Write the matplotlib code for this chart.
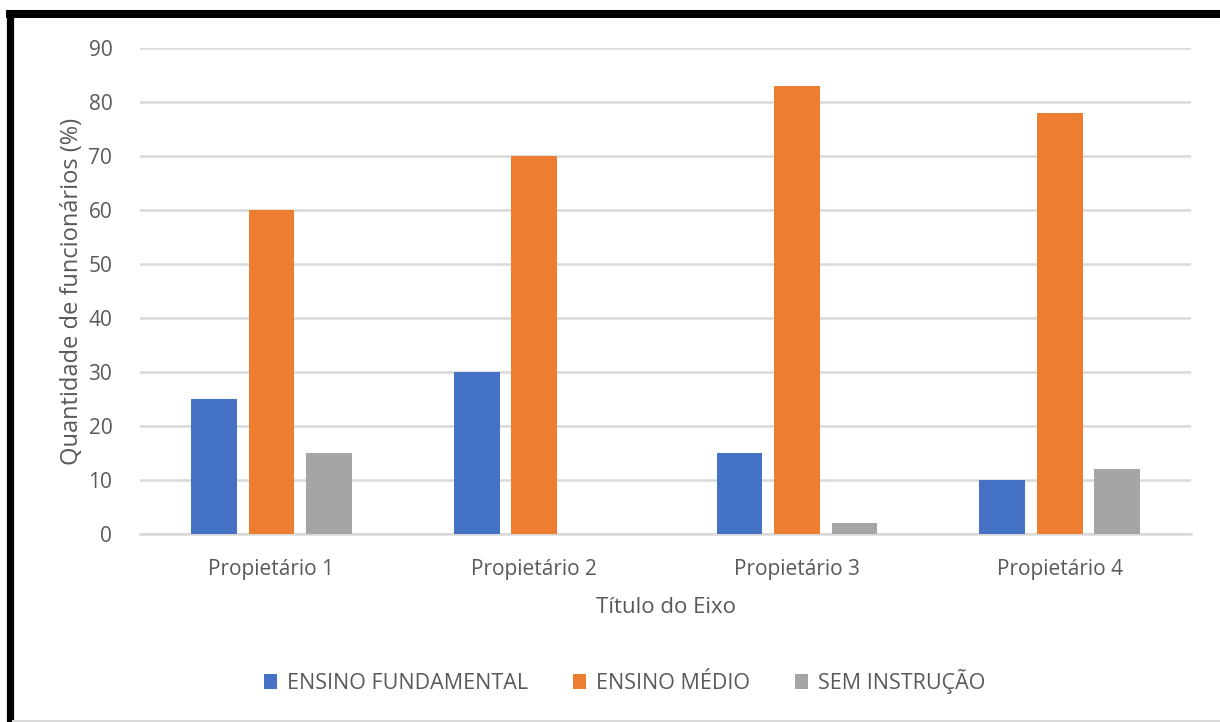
import numpy as np
import matplotlib.pyplot as plt
from matplotlib.lines import Line2D

plt.rcParams['font.family'] = ['Open Sans', 'DejaVu Sans']

categorias = ['Propietário 1', 'Propietário 2', 'Propietário 3', 'Propietário 4']
fundamental = [25, 30, 15, 10]
medio = [60, 70, 83, 78]
sem_instrucao = [15, 0, 2, 12]

series = [('ENSINO FUNDAMENTAL', fundamental, '#4472C4'),
          ('ENSINO MÉDIO', medio, '#ED7D31'),
          ('SEM INSTRUÇÃO', sem_instrucao, '#A5A5A5')]

texto = '#595959'

fig = plt.figure(figsize=(12.2, 7.22), dpi=100)
ax = fig.add_axes([0.1148, 0.2604, 0.8615, 0.6731])

x = np.arange(len(categorias))
larg = 0.174
passo = 0.219
for i, (nome, vals, cor) in enumerate(series):
    ax.bar(x + (i - 1) * passo, vals, larg, color=cor, label=nome, zorder=3)

ax.set_xlim(-0.5, 3.5)
ax.set_ylim(0, 90)
ax.set_yticks(range(0, 91, 10))
ax.set_xticks(x)
ax.set_xticklabels(categorias)
ax.yaxis.grid(True, color='#D9D9D9', linewidth=1.8, zorder=0)
ax.tick_params(axis='both', length=0, colors=texto, labelsize=15)
ax.tick_params(axis='x', pad=18)
ax.tick_params(axis='y', pad=20)
for s in ['top', 'right', 'left']:
    ax.spines[s].set_visible(False)
ax.spines['bottom'].set_color('#D9D9D9')
ax.spines['bottom'].set_linewidth(1.8)

ax.set_xlabel('Título do Eixo', fontsize=16, color=texto, labelpad=12)
ax.set_ylabel('Quantidade de funcionários (%)', fontsize=17, color=texto, labelpad=3)

fig.legend(loc='center', bbox_to_anchor=(0.512, 0.056), ncol=3, frameon=False,
           fontsize=15.5, labelcolor=texto, handlelength=0.6, handleheight=0.7,
           handletextpad=0.45, columnspacing=2.1)

# moldura preta
fig.add_artist(Line2D([0.005, 1.0], [0.9806, 0.9806], color='black', linewidth=5.8,
                      transform=fig.transFigure, solid_capstyle='butt'))
fig.add_artist(Line2D([0.0078, 0.0078], [0.985, 0.0], color='black', linewidth=5.2,
                      transform=fig.transFigure, solid_capstyle='butt'))
fig.add_artist(Line2D([0.011, 1.0], [0.002, 0.002], color='#D9D9D9', linewidth=1.5,
                      transform=fig.transFigure))

fig.savefig('out.png', dpi=100)
